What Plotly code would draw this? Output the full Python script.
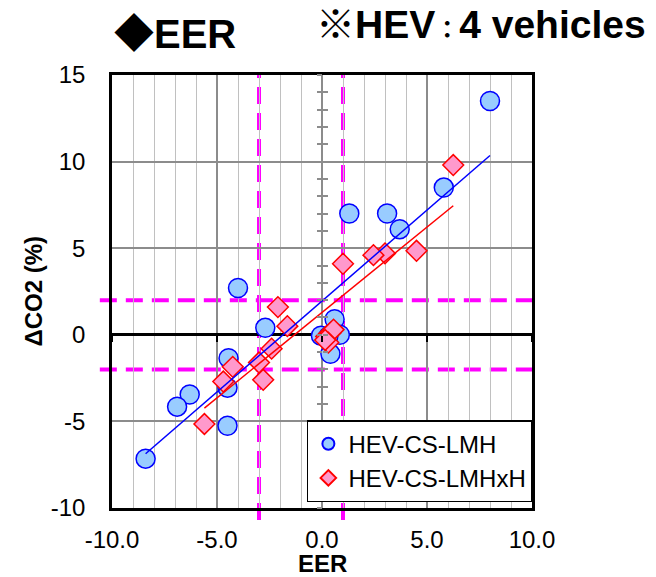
import plotly.graph_objects as go

# HEV-CS-LMH (blue circles): EER vs ΔCO2 (%)
lmh_eer = [8.0, 5.8, 1.3, 3.1, 3.7, -4.0, -2.7, 0.6, -0.05, 0.85, 0.4, 0.3,
           -4.45, -4.5, -6.3, -6.9, -4.5, -8.4]
lmh_co2 = [13.5, 8.5, 7.0, 7.0, 6.1, 2.7, 0.4, 0.9, -0.05, 0.0, -1.1, -0.1,
           -1.35, -3.05, -3.45, -4.15, -5.25, -7.15]

# HEV-CS-LMHxH (pink diamonds)
lmhxh_eer = [6.25, 4.5, 3.0, 2.45, 1.0, -2.1, -1.65, -2.4, -3.0, -2.8, -4.25,
             -4.7, -5.6, 0.2, 0.4, 0.55, 0.3, 0.15]
lmhxh_co2 = [9.8, 4.85, 4.7, 4.6, 4.1, 1.6, 0.5, -0.8, -1.6, -2.6, -1.85,
             -2.7, -5.15, -0.1, 0.1, 0.3, -0.45, -0.3]

# Linear trend lines (slope, intercept) for each series
lmh_trend = [1.05, 1.95]
lmhxh_trend = [0.986, 1.29]

# Threshold guides
eer_limits = [-3.0, 1.0]
co2_limits = [-2.0, 2.0]

x_ticks = [-10, -5, 0, 5, 10]
x_tick_labels = ["-10.0", "-5.0", "0.0", "5.0", "10.0"]
y_ticks = [-10, -5, 0, 5, 10, 15]
y_tick_labels = ["-10", "-5", "0", "5", "10", "15"]

FONT = "Arial, 'Liberation Sans', 'Noto Sans CJK JP', sans-serif"

fig = go.Figure()

fig.add_trace(go.Scatter(
    x=lmh_eer, y=lmh_co2, mode="markers", name="HEV-CS-LMH",
    marker=dict(symbol="circle", size=19, color="#99CCFF",
                line=dict(color="#0000FF", width=1.5)),
))
fig.add_trace(go.Scatter(
    x=lmhxh_eer, y=lmhxh_co2, mode="markers", name="HEV-CS-LMHxH",
    marker=dict(symbol="diamond", size=16, color="#FF99CC",
                line=dict(color="#FF0000", width=1.5)),
))


def trend(xs, coef):
    lo, hi = min(xs), max(xs)
    return [lo, hi], [coef[0] * lo + coef[1], coef[0] * hi + coef[1]]


tx, ty = trend(lmh_eer, lmh_trend)
fig.add_trace(go.Scatter(x=tx, y=ty, mode="lines", showlegend=False,
                         line=dict(color="#0000FF", width=1.5), hoverinfo="skip"))
tx, ty = trend(lmhxh_eer, lmhxh_trend)
fig.add_trace(go.Scatter(x=tx, y=ty, mode="lines", showlegend=False,
                         line=dict(color="#FF0000", width=1.5), hoverinfo="skip"))

# empty traces so the overlay axes (cross ticks on x=0, ticks on y=0) are drawn
fig.add_trace(go.Scatter(x=[], y=[], xaxis="x", yaxis="y2", showlegend=False))
fig.add_trace(go.Scatter(x=[], y=[], xaxis="x", yaxis="y3", showlegend=False))
fig.add_trace(go.Scatter(x=[], y=[], xaxis="x2", yaxis="y", showlegend=False))

MAGENTA = "#FF00FF"
shapes = []
for xv in eer_limits:
    shapes.append(dict(type="line", xref="x", yref="paper", x0=xv, x1=xv,
                       y0=-0.028, y1=1.0, layer="between",
                       line=dict(color=MAGENTA, width=4, dash="17px,9px")))
for yv in co2_limits:
    shapes.append(dict(type="line", xref="paper", yref="y", x0=-0.029, x1=1.0,
                       y0=yv, y1=yv, layer="between",
                       line=dict(color=MAGENTA, width=4, dash="17px,9px")))

fig.update_layout(
    width=656, height=577,
    margin=dict(l=112, r=124, t=75, b=69),
    paper_bgcolor="white", plot_bgcolor="white",
    font=dict(family=FONT, size=24, color="black"),
    shapes=shapes,
    xaxis=dict(
        range=[-10, 10], tickvals=x_ticks, ticktext=x_tick_labels,
        showgrid=True, gridcolor="#8c8c8c", gridwidth=1.5,
        minor=dict(dtick=1, showgrid=True, gridcolor="#c0c0c0", gridwidth=1.2),
        zeroline=True, zerolinecolor="#8c8c8c", zerolinewidth=1.5,
        showline=True, linecolor="black", linewidth=2.5, mirror=True,
        ticks="", ticklabelstandoff=8,
        tickfont=dict(size=24),
    ),
    yaxis=dict(
        range=[-10, 15], tickvals=y_ticks, ticktext=y_tick_labels,
        showgrid=True, gridcolor="#8c8c8c", gridwidth=1.5,
        zeroline=True, zerolinecolor="black", zerolinewidth=2.5,
        showline=True, linecolor="black", linewidth=2.5, mirror=True,
        ticks="", ticklabelstandoff=19,
        tickfont=dict(size=24),
    ),
    yaxis2=dict(
        overlaying="y", anchor="free", position=0.5, range=[-10, 15],
        dtick=1, showticklabels=False, showgrid=False, zeroline=False,
        showline=False, ticks="outside", ticklen=5, tickwidth=1.5,
        tickcolor="#8c8c8c",
    ),
    yaxis3=dict(
        overlaying="y", anchor="free", position=0.5, range=[-10, 15],
        dtick=1, showticklabels=False, showgrid=False, zeroline=False,
        showline=False, ticks="inside", ticklen=5, tickwidth=1.5,
        tickcolor="#8c8c8c",
    ),
    xaxis2=dict(
        overlaying="x", anchor="free", position=0.4, range=[-10, 10],
        dtick=5, showticklabels=False, showgrid=False, zeroline=False,
        showline=False, ticks="outside", ticklen=6, tickwidth=2,
        tickcolor="black",
    ),
    legend=dict(
        x=0.464, y=0.203, xanchor="left", yanchor="top",
        bgcolor="white", bordercolor="black", borderwidth=1.5,
        font=dict(size=24, family=FONT), itemsizing="constant",
        itemwidth=30, tracegroupgap=4,
    ),
    showlegend=True,
    annotations=[
        dict(text="<b>◆EER</b>", xref="paper", yref="paper", x=0.0, y=1.095,
             xanchor="left", yanchor="middle", showarrow=False,
             font=dict(size=40, family=FONT)),
        dict(text="<b>※HEV<span style='font-size:24px'>：</span>4 vehicles</b>",
             xref="paper", yref="paper",
             x=1.276, y=1.117, xanchor="right", yanchor="middle",
             showarrow=False, font=dict(size=39, family=FONT)),
        dict(text="<b>ΔCO2 (%)</b>", xref="paper", yref="paper", x=-0.188,
             y=0.5, xanchor="center", yanchor="middle", textangle=-90,
             showarrow=False, font=dict(size=24, family=FONT)),
        dict(text="<b>EER</b>", xref="paper", yref="paper", x=0.5, y=-0.129,
             xanchor="center", yanchor="middle", showarrow=False,
             font=dict(size=24, family=FONT)),
    ],
)

fig.write_html("out.html")
